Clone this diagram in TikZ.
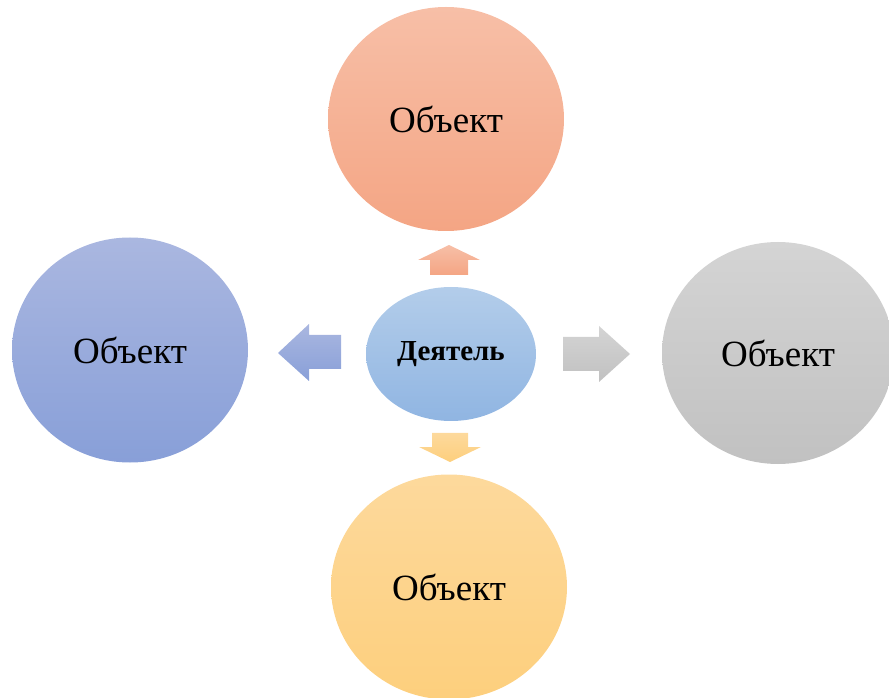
\documentclass[tikz,border=0pt]{standalone}
\usepackage{fontspec}
\setmainfont{Liberation Serif}
\usetikzlibrary{shapes.geometric}
\definecolor{salmonA}{HTML}{F7BFA7}
\definecolor{salmonB}{HTML}{F4A584}
\definecolor{blueA}{HTML}{AAB7E0}
\definecolor{blueB}{HTML}{889FD8}
\definecolor{greyA}{HTML}{D4D4D4}
\definecolor{greyB}{HTML}{C1C1C1}
\definecolor{sandA}{HTML}{FDD99C}
\definecolor{sandB}{HTML}{FDCF7D}
\definecolor{skyA}{HTML}{B3CDEA}
\definecolor{skyB}{HTML}{90B5E2}

\begin{document}
\begin{tikzpicture}[x=1pt,y=1pt,obj/.style={ellipse,draw=none,inner sep=0pt,minimum width=236pt,minimum height=224pt,font=\fontsize{37}{40}\selectfont},actor/.style={ellipse,draw=none,inner sep=0pt,minimum width=170pt,minimum height=134pt,font=\fontsize{29}{32}\selectfont\bfseries}]
\useasboundingbox (0,0) rectangle (889,697);
\clip (0,0) rectangle (889,697);
\node[actor,top color=skyA,bottom color=skyB] (actor) at (451,343) {Деятель};
\node[obj,top color=salmonA,bottom color=salmonB] (objN) at (446,578) {Объект};
\node[obj,top color=blueA,bottom color=blueB,minimum height=225pt] (objW) at (130,347) {Объект};
\node[obj,top color=greyA,bottom color=greyB,minimum width=232pt,minimum height=222pt] (objE) at (778,344) {Объект};
\node[obj,top color=sandA,bottom color=sandB,minimum height=225pt] (objS) at (449,110) {Объект};
% block arrows
\shade[top color=salmonA,bottom color=salmonB] (430,422) -- (430,437) -- (418,437) -- (449,452) -- (480,437) -- (468,437) -- (468,422) -- cycle;
\shade[top color=blueA,bottom color=blueB] (341,362) -- (309,362) -- (309,373) -- (278,344) -- (309,316) -- (309,328) -- (341,328) -- cycle;
\shade[top color=greyA,bottom color=greyB] (563,360) -- (599,360) -- (599,371) -- (630,343) -- (599,315) -- (599,326) -- (563,326) -- cycle;
\shade[top color=sandA,bottom color=sandB] (432,264) -- (432,250) -- (419,250) -- (450,235) -- (481,250) -- (468,250) -- (468,264) -- cycle;
\end{tikzpicture}
\end{document}
